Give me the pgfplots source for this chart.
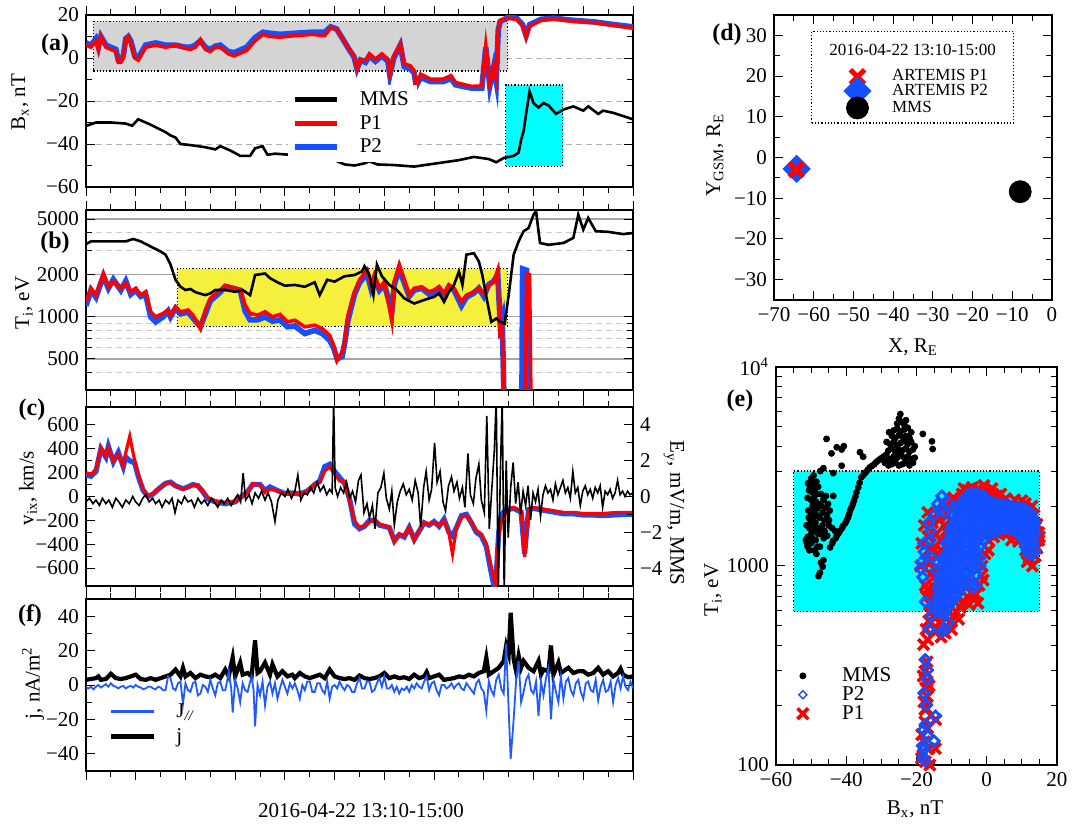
\documentclass[border=0pt]{standalone}
\usepackage{fontspec}
\setmainfont{Liberation Serif}
\usepackage{pgfplots}
\usepackage{pgfplotstable}
\pgfplotsset{compat=1.18}

\definecolor{pblue}{RGB}{20,80,255}
\definecolor{jblue}{RGB}{30,90,255}
\definecolor{boxgray}{RGB}{212,212,212}
\definecolor{boxyellow}{RGB}{245,240,60}
\definecolor{boxcyan}{RGB}{0,255,255}
\newcommand{\fs}{\fontsize{10.5}{12}\selectfont}

% (a) Bx ARTEMIS P1/P2
\pgfplotstableread{
t p1 p2
0 6 7
1 5 6
2 8 9
2.5 4 5
3 10 10
4 5 6
5 4 5
6 3 4
6.5 -2 -1
7 -2 -1
7.5 0 1
8 9 9
8.5 10 10
9 7 8
9.8 0 1
10.5 -1 0
11 1 2
12 5 6
14 6 7
16 5 6
18 6 6
20 4.5 5
21 4 5
22 5 6
23 8.5 8
24 4 5
25 3 4
26 5 5.5
27 5 6
28.6 2 3
29.8 1 2.5
32.3 3.5 5
34 8 9.5
35.6 11 12
37 10 11.5
39 9.7 11
42 10.4 11.5
45.5 11 12
48 10.4 12
49.2 14 14.5
50.4 13.5 13.5
51.6 9 9
52.9 4.2 4
53.9 1 0.5
54.5 -5 -5
55.2 -0.5 -1
56.2 -1.2 -2
57 1.9 1
58.2 -0.5 -1.5
59.5 1.9 1
60.7 -0.5 -1.5
61.1 -7.5 -8
61.9 1 0
63.2 6.5 6
64 -2.8 -4
65.2 -3.6 -5
66 -6 -7
66.4 -13 -13
67.3 -7.5 -9
69.3 -9.8 -11
71.8 -9.8 -11
73.4 -8.2 -9.5
74.3 -11.4 -12.5
77.5 -13.2 -14
79.6 -13 -14
80.4 5.8 5
81.2 -12 -13
82 -3.6 -4
82.5 -9.8 -11
82.9 13.6 13
83.3 17.5 17
85 18.5 19
86.6 18 18.5
87.8 15 15.5
88.5 9.7 10.5
89.2 14.8 15.5
91.5 17.5 18
94 18.2 18.5
98.1 17 17.5
102.2 16.4 16.8
106.3 15.1 15.5
110 13.9 14.5
}\tabA

% (a) Bx MMS
\pgfplotstableread{
t v
0 -31.6
2 -30
5 -30
8 -30.5
9.3 -31.5
10.5 -28.5
13 -31
16 -34.5
17 -36
18 -37
19 -40
21 -40.5
24 -41.5
26 -42.5
27 -41
29 -43
31 -45.5
33 -45.5
34 -42
35.5 -41
36.5 -45
38 -44.5
41 -45
43 -46
45 -44.5
47 -45
49 -46.5
52 -49.5
54 -50
56 -49
57 -48
58.5 -49.5
62 -49.8
66 -50.5
69 -49.5
72 -48.5
75 -47.5
78 -46
81 -47
82.5 -48.5
84 -46.5
86 -45.5
87 -44
87.5 -38
88 -34
88.5 -26
89.2 -15.5
90 -21
91 -23
92 -21
93 -22
94.5 -26
96 -24
98 -22.5
100 -24.5
101 -22.5
103 -26
104 -24.5
106 -25.5
108 -27
110 -28.5
}\tabAm

% (b) Ti ARTEMIS P1/P2
\pgfplotstableread{
t p1 p2
0 1280 1200
1 1600 1550
2 1430 1380
3 1785 1750
3.5 2040 1950
4.5 1640 1600
5.5 1785 1850
7 1600 1550
8 1740 1800
9 1510 1450
10 1600 1550
11 1430 1400
12 1510 1450
13 1086 1000
14 1000 920
15.5 1057 1000
16.5 1118 1100
17 1028 1000
18 1180 1150
19 1086 1050
20.5 1118 1080
21.5 1028 980
23 824 850
24 1118 1050
25 1355 1300
27 1555 1500
28 1670 1650
29.5 1620 1600
31 1555 1550
32 1213 1100
33 1057 950
34.5 1028 950
36 1086 1000
37.5 1000 930
39 1040 950
40.5 920 850
42 945 860
44 848 760
46 871 800
47.5 824 760
49 738 680
49.8 626 600
50.5 488 500
51.5 560 520
52 661 640
52.7 1028 950
54 1510 1450
55 1840 1750
56.5 2160 2050
57.3 1690 1600
58 1990 1900
59 1600 1550
60 1785 1700
61.5 930 1100
62 1785 1700
63 2360 2200
64 1840 1750
65 1430 1400
66 1600 1550
67.5 1640 1600
69 1510 1450
70 1555 1500
71 1640 1600
72 1470 1420
73 1690 1650
74 1600 1550
75.5 1280 1200
76.5 1430 1380
78 1510 1480
79 1600 1600
80 1470 1400
81 1690 1700
82 1785 1800
82.8 2160 2000
83.3 700 900
83.7 920 1000
84.3 100 100
}\tabB

% (b) Ti MMS
\pgfplotstableread{
t v
0 3310
1 3460
5 3460
8 3460
9.5 3600
11 3460
13 3180
15 2930
16 2780
17 2360
18 1840
19 1640
20 1555
21 1580
22 1500
24 1430
25 1470
26 1555
28 1555
30 1510
31.5 1555
33 1430
34 1990
36 2040
37 1890
38.5 1765
40 1670
42 1690
44 1640
46 1765
47 1430
47.5 1555
48.5 1840
50 1785
52 1950
54 1990
55.5 2110
56 2300
57 1990
57.8 1430
58.5 2360
59.5 1950
61 1690
62.5 1555
64 1355
66 1245
68 1320
70 1390
71 1470
72 1280
73 1510
74 1690
75 2110
75.7 1690
76.5 2780
78 2850
79 2490
79.7 1990
80.7 1280
81.5 920
82.5 973
83.3 920
84.2 895
85 1430
86 2780
87 3460
88 4090
89 4310
90 5370
90.5 5700
91.3 3370
93 3270
96 3370
98 3660
99 5370
100 4200
101 5090
102.5 4090
105 4050
108 3900
110 3970
}\tabBm

% (c) vix ARTEMIS P1/P2
\pgfplotstableread{
t p1 p2
0 200 180
1 186 170
2 228 210
3 408 400
4 339 330
4.5 408 420
5.5 297 290
6.5 353 370
7.5 256 250
8 367 330
8.8 505 300
9.8 297 280
10.5 186 170
11.5 61 50
12.5 6 0
13.5 25 20
14.5 61 60
16 108 110
17 117 120
18 89 90
19.5 61 65
20.5 75 80
21.5 97 100
22.5 89 90
23.5 47 40
24.5 -8 -20
26 -36 -45
28 -50 -60
30 -42 -45
31 -8 -10
32.5 33 40
33.5 108 100
35 97 100
36 33 50
37 61 80
38.5 47 50
40 19 25
41.5 33 30
43 19 20
44.5 47 45
46 103 100
47 117 130
48 214 250
49 247 270
50 186 210
51 131 160
52 125 110
53 -36 -20
54 -203 -230
55 -258 -270
56 -244 -250
57 -217 -200
58 -189 -200
59 -230 -240
61 -258 -260
62 -383 -370
63 -314 -320
64 -328 -340
65 -258 -260
66 -369 -360
67 -286 -290
68 -217 -220
69 -230 -240
70 -217 -210
71 -244 -250
72 -203 -190
73 -314 -300
73.7 -480 -330
74.5 -258 -260
75.5 -175 -160
76.5 -161 -150
77.5 -217 -220
78.5 -286 -300
79.5 -314 -330
80.5 -397 -420
81.5 -592 -640
82.3 -730 -800
83 -342 -300
83.5 -203 -150
84.5 -133 -110
86 -92 -100
87.5 -119 -130
88.2 -508 -480
89 -106 -110
90 -92 -100
92 -106 -115
94 -119 -130
96 -133 -145
98 -133 -145
100 -142 -155
102 -142 -155
104 -142 -160
106 -136 -155
108 -133 -150
110 -133 -148
}\tabC

% (c) Ey MMS
\pgfplotstableread[row sep=\\]{
t v\\
0 -0.3\\ 0.7 -0.1\\ 1.4 -0.4\\ 2 -0.2\\ 2.7 -0.5\\ 3.3 -0.1\\ 4 -0.4\\ 4.6 -0.2\\ 5.3 -0.6\\ 6 -0.1\\
6.6 -0.3\\ 7.3 -0.6\\ 8 -0.2\\ 8.7 -0.4\\ 9.4 0\\ 10 -0.3\\ 10.7 -0.5\\ 11.4 -0.1\\ 12 0.1\\ 12.7 -0.3\\
13.4 -0.1\\ 14 -0.4\\ 14.7 -0.2\\ 15.3 -0.6\\ 16 -0.2\\ 16.7 -0.4\\ 17.3 -0.1\\ 17.9 -0.9\\ 18.5 -0.2\\ 19.2 -0.4\\
19.8 0\\ 20.5 -0.3\\ 21.2 -0.2\\ 21.8 -0.6\\ 22.5 -0.1\\ 23.2 -0.4\\ 23.8 -0.2\\ 24.5 -0.5\\ 25.2 -0.1\\ 25.8 -0.3\\
26.5 -0.6\\ 27.2 -0.2\\ 27.8 -0.4\\ 28.5 -0.1\\ 29.2 -0.5\\ 29.8 -0.2\\ 30.5 0.1\\ 31.1 -0.3\\ 31.6 1.3\\ 32.1 -0.2\\
32.8 0.1\\ 33.4 -0.4\\ 34 0.2\\ 34.7 -0.1\\ 35.3 0.3\\ 36 -0.2\\ 36.6 0.2\\ 37.3 -0.3\\ 38 -1.4\\ 38.6 -0.2\\
39.3 0.2\\ 40 0\\ 40.6 0.4\\ 41.3 -0.1\\ 42 0.3\\ 42.6 1.2\\ 43.2 -0.2\\ 43.9 0.2\\ 44.5 0.1\\ 45.2 0.5\\
45.8 0.2\\ 46.5 0.8\\ 47.1 0.3\\ 47.8 0.6\\ 48.4 0.1\\ 49 0.4\\ 49.5 0.2\\ 49.8 5.5\\ 50.1 0.5\\ 50.6 0\\
51.2 0.5\\ 51.8 0.2\\ 52.4 0.8\\ 53 -0.1\\ 53.6 0.3\\ 54.2 -0.3\\ 54.8 0.9\\ 55.3 1.2\\ 55.9 -0.9\\ 56.5 -0.4\\
57 -1.2\\ 57.6 -0.5\\ 58.1 -1.8\\ 58.7 0.2\\ 59.3 0.5\\ 59.9 1.3\\ 60.4 -0.1\\ 61 -0.7\\ 61.5 0.3\\ 62 -1.6\\
62.6 -0.3\\ 63.2 0.3\\ 63.8 0.7\\ 64.4 0.1\\ 65 0.4\\ 65.6 -0.2\\ 66.2 0.9\\ 66.8 0.2\\ 67.3 -1.7\\ 67.9 0.5\\
68.4 1.4\\ 69 -0.2\\ 69.5 0.4\\ 70.1 3.0\\ 70.6 0.8\\ 71.2 1.4\\ 71.8 -0.3\\ 72.3 -0.8\\ 72.9 0.6\\ 73.5 1.1\\
74 0.3\\ 74.6 0.8\\ 75.1 -0.1\\ 75.7 0.5\\ 76.2 -0.6\\ 76.8 2.4\\ 77.3 0.1\\ 77.9 -0.4\\ 78.4 1.0\\ 79 1.8\\
79.5 -0.2\\ 80.1 -0.9\\ 80.6 4.5\\ 81.1 -1.8\\ 81.6 0.4\\ 82.1 2.5\\ 82.5 5.5\\ 82.9 -5.5\\ 83.3 1.0\\ 83.7 5.5\\
84.1 -5.5\\ 84.5 2.0\\ 84.9 -2.3\\ 85.4 0.5\\ 85.9 1.9\\ 86.4 -0.4\\ 86.9 0.8\\ 87.4 -1.0\\ 87.9 0.3\\ 88.4 -0.5\\
88.9 0.6\\ 89.4 -1.3\\ 89.9 0.2\\ 90.4 -0.3\\ 90.9 0.4\\ 91.4 -1.1\\ 91.9 0.1\\ 92.4 0.6\\ 92.9 0.2\\ 93.4 0.4\\
93.9 -0.2\\ 94.4 0.7\\ 94.9 0.1\\ 95.4 0.5\\ 95.9 0.9\\ 96.4 0.2\\ 96.9 0.5\\ 97.4 -0.1\\ 97.9 1.4\\ 98.4 0.2\\
98.9 0.5\\ 99.4 -0.5\\ 99.9 0.3\\ 100.4 0.6\\ 100.9 0.1\\ 101.4 0.4\\ 101.9 -0.1\\ 102.4 0.5\\ 102.9 0.2\\ 103.4 0.6\\
103.9 -0.6\\ 104.4 0.3\\ 104.9 0.1\\ 105.4 0.4\\ 105.9 -0.1\\ 106.4 0.2\\ 106.9 0.9\\ 107.4 0.1\\ 107.9 0.3\\ 108.4 0\\
108.9 0.3\\ 109.4 0.1\\ 110 0.2\\
}\tabCe

% (f) |j| MMS
\pgfplotstableread[row sep=\\]{
t j\\
0 3\\ 1 3.5\\ 2 4\\ 2.5 5\\ 3 3\\ 4 3.5\\ 5 6.5\\ 6 4\\ 7 3.5\\ 8 4\\
9 5\\ 10 6\\ 11 3.5\\ 12 3\\ 13 4\\ 14 3\\ 15 4\\ 16 5\\ 17 6\\ 18 9\\
19 5\\ 19.5 10\\ 20 5\\ 21 7\\ 22 4\\ 23 6\\ 24 5\\ 25 4.5\\ 26 6\\ 27 4\\
28 9\\ 28.7 5\\ 29.5 16\\ 30 5\\ 31 13\\ 31.5 6\\ 32.5 7\\ 33.3 5\\ 34 26\\ 34.5 7\\
35 8\\ 36 13\\ 37 6\\ 37.5 12\\ 38.5 5\\ 39.5 8\\ 40.5 5\\ 41.5 6\\ 42 4\\ 43 7\\
44 5\\ 45 4\\ 46 5\\ 47 6\\ 48 4\\ 49 9\\ 50 5\\ 51 4\\ 52 3.5\\ 53 4\\
54 3\\ 55 5.5\\ 56 4\\ 57 3.5\\ 58 4\\ 59 5\\ 60 7\\ 61 4\\ 62 5\\ 63 4\\
64 4.5\\ 65 3.5\\ 66 6\\ 67 4\\ 68 5\\ 68.5 7.5\\ 69 4\\ 70 5\\ 71 6\\ 72 3\\
73 3.5\\ 74 4\\ 75 5\\ 76 4.5\\ 77 6\\ 78 5\\ 79 7\\ 80 8\\ 80.5 16\\ 81 6\\
82 8\\ 83 10\\ 84 14\\ 84.5 23\\ 85 18\\ 85.4 42\\ 86 15\\ 86.5 8\\ 87 17\\ 87.5 10\\
88 14\\ 89 10\\ 90 8\\ 91 14\\ 91.5 6\\ 92 9\\ 93 8\\ 93.5 23\\ 94 6\\ 95 13\\
95.5 7\\ 96 8\\ 97 10\\ 98 7\\ 99 8\\ 100 8\\ 101 6\\ 102 7\\ 103 10\\ 104 6\\
105 8\\ 106 5\\ 107 7\\ 107.5 9.5\\ 108 6\\ 109 4.5\\ 110 5\\
}\tabFj

% (f) j parallel MMS
\pgfplotstableread[row sep=\\]{
t jp\\
0 -1.5\\ 0.5 -2\\ 1 -1\\ 1.5 -2.5\\ 2 -1\\ 2.5 0\\ 3 -1.5\\ 3.5 -0.5\\ 4 0.5\\ 4.5 -1\\
5 1\\ 5.5 -0.5\\ 6 -1\\ 6.5 -2\\ 7 -1\\ 7.5 -0.5\\ 8 -2\\ 8.5 -1\\ 9 -0.5\\ 9.5 -1.5\\
10 0\\ 10.5 -1\\ 11 -1.5\\ 11.5 -2.5\\ 12 -2\\ 12.5 -1\\ 13 -1\\ 13.5 -2\\ 14 -2.5\\ 14.5 -1\\
15 -1.5\\ 15.5 -3\\ 16 -3\\ 16.5 5\\ 17 4\\ 17.5 -2\\ 18 -3\\ 18.5 1\\ 19 2\\ 19.5 -11\\
20 1\\ 20.5 -3\\ 21 -4\\ 21.5 1\\ 22 2\\ 22.5 -6\\ 23 -5\\ 23.5 0\\ 24 -1\\ 24.5 -4\\
25 3\\ 25.5 -2\\ 26 -6\\ 26.5 1\\ 27 2\\ 27.5 -3\\ 28 -3\\ 28.5 4\\ 28.7 8\\ 29.2 -2\\
29.5 -16\\ 30 3\\ 30.5 -2\\ 31 -10\\ 31.5 1\\ 32 -3\\ 32.5 -4\\ 33 2\\ 33.3 5\\ 33.7 -3\\
34 -24\\ 34.5 0\\ 35 -6\\ 35.5 2\\ 36 -12\\ 36.5 -1\\ 37 2\\ 37.5 -5\\ 38 1\\ 38.5 -8\\
39 -2\\ 39.5 3\\ 40 -1\\ 40.5 -5\\ 41 1\\ 41.5 -2\\ 42 1\\ 42.5 -3\\ 43 -8\\ 43.5 0\\
44 -3\\ 44.5 2\\ 45 2\\ 45.5 -4\\ 46 -4\\ 46.5 1\\ 47 1\\ 47.5 -3\\ 48 -5\\ 48.5 2\\
49 -8\\ 49.5 -1\\ 50 0\\ 50.5 -2\\ 51 2\\ 51.5 -1\\ 52 -3\\ 52.5 0\\ 53 -1\\ 53.5 -4\\
54 -4\\ 54.5 1\\ 55 4\\ 55.5 -2\\ 56 -2\\ 56.5 2\\ 57 2\\ 57.5 -4\\ 58 -3\\ 58.5 1\\
59 4\\ 59.5 -1\\ 60 5\\ 60.5 -2\\ 61 -2\\ 61.5 0\\ 62 -4\\ 62.5 -1\\ 63 -5\\ 63.5 -2\\
64 -3\\ 64.5 -1\\ 65 -4\\ 65.5 0\\ 66 -2\\ 66.5 1\\ 67 -1\\ 67.5 -2\\ 68 2\\ 68.5 5\\
69 -3\\ 69.5 1\\ 70 2\\ 70.5 -3\\ 71 -6\\ 71.5 0\\ 72 0\\ 72.5 -2\\ 73 -1\\ 73.5 1\\
74 -2\\ 74.5 0\\ 75 1\\ 75.5 -2\\ 76 -3\\ 76.5 1\\ 77 -1\\ 77.5 -3\\ 78 -5\\ 78.5 1\\
79 3\\ 79.5 -2\\ 80 -4\\ 80.5 -15\\ 81 2\\ 81.5 -3\\ 82 -6\\ 82.5 3\\ 83 6\\ 83.5 -2\\
84 -5\\ 84.5 24\\ 85 -15\\ 85.4 -43\\ 86 -20\\ 86.5 3\\ 87 14\\ 87.5 -10\\ 88 -4\\ 88.5 3\\
89 6\\ 89.5 -3\\ 90 -5\\ 90.5 2\\ 91 -18\\ 91.5 2\\ 92 -6\\ 92.5 4\\ 93 10\\ 93.5 -20\\
94 3\\ 94.5 -4\\ 95 -10\\ 95.5 5\\ 96 -8\\ 96.5 2\\ 97 4\\ 97.5 -3\\ 98 -6\\ 98.5 1\\
99 3\\ 99.5 -4\\ 100 -8\\ 100.5 1\\ 101 2\\ 101.5 -3\\ 102 -4\\ 102.5 3\\ 103 -9\\ 103.5 -1\\
104 3\\ 104.5 -4\\ 105 -3\\ 105.5 2\\ 106 -10\\ 106.5 0\\ 107 4\\ 107.5 -2\\ 108 5\\ 108.5 -1\\
109 -3\\ 109.5 2\\ 110 -2\\
}\tabFp

% (e) Ti versus Bx, MMS
\pgfplotstableread[row sep=\\]{
x y\\
-51 1250\\ -50.5 1200\\ -50 1300\\ -49.5 1350\\ -51 1400\\ -50 1450\\ -49 1500\\ -50.5 1550\\ -49.8 1600\\ -48.8 1650\\
-50.2 1700\\ -49.3 1750\\ -48.5 1800\\ -50 1850\\ -49 1900\\ -48.2 1950\\ -49.6 2000\\ -48.6 2100\\ -50 2150\\ -49.2 2200\\
-48.3 2300\\ -49.7 2350\\ -49 2450\\ -50.3 2500\\ -49.5 2600\\ -48.5 2650\\ -50 2750\\ -49.3 2850\\ -48.7 1350\\ -48 1450\\
-48.2 1250\\ -51.3 1600\\ -51.5 1350\\ -47.8 1550\\ -47.6 1750\\ -47.9 2050\\ -50.8 1900\\ -51 2200\\ -50.6 2400\\ -48 2500\\
-47.5 1250\\ -49 1200\\ -48.5 1150\\ -51.2 1300\\ -50.7 1750\\ -49.4 2100\\ -48.9 2350\\ -50.9 2600\\ -48.4 1550\\ -49.9 1400\\
-46.8 1600\\ -46.2 1700\\ -45.5 1800\\ -46.8 1850\\ -46 1950\\ -45.2 2050\\ -46.5 2150\\ -45.8 2250\\ -44.9 1700\\ -46.2 1500\\
-47 2000\\ -45 1600\\ -44.7 1900\\ -47.2 2300\\ -44 1550\\ -43.2 1500\\ -42.5 1450\\ -45.4 1420\\ -46.4 1380\\ -47.1 1450\\
-46.5 1070\\ -46.7 993\\ -47.5 925\\ -47.9 890\\ -47.2 1040\\
-44.6 1240\\ -43.7 1340\\ -42.7 1420\\ -41.8 1500\\ -40.9 1590\\ -39.9 1690\\ -39.2 1820\\ -38.5 1970\\ -37.8 2130\\ -37.1 2340\\
-36.6 2480\\ -35.7 2790\\ -34.5 2950\\ -33.3 3130\\ -32 3250\\ -31 3380\\ -29.8 3500\\ -28.6 3630\\ -44 1300\\ -43 1380\\
-42.2 1460\\ -41.2 1550\\ -40.3 1640\\ -39.5 1750\\ -38.9 1900\\ -38.1 2050\\ -37.4 2230\\ -36.2 2620\\ -35.1 2870\\ -33.9 3040\\
-32.6 3190\\ -31.5 3320\\ -30.4 3440\\ -29.2 3560\\
-45.6 4350\\ -44.2 3680\\ -42.7 3950\\ -41.3 3850\\ -41.3 3190\\ -36.1 3730\\ -35.2 3540\\ -46.5 3100\\ -43.7 2930\\ -43.7 2250\\
-18.2 4610\\ -15.6 4230\\ -15.4 3870\\ -40.7 4000\\ -47.4 3000\\
-29 3300\\ -28 3200\\ -27 3250\\ -26 3300\\ -25 3200\\ -24 3250\\ -23 3300\\ -22 3200\\ -21 3300\\
-28.5 3500\\ -27.5 3450\\ -26.5 3550\\ -25.5 3500\\ -24.5 3600\\ -23.5 3500\\ -22.5 3550\\ -21.5 3450\\ -20.5 3500\\
-28 3800\\ -27 3900\\ -26 3750\\ -25 3850\\ -24 3800\\ -23 3900\\ -22 3750\\ -21 3850\\
-27.5 4100\\ -26.5 4200\\ -25.5 4050\\ -24.5 4150\\ -23.5 4250\\ -22.5 4100\\ -21.5 4200\\
-27 4500\\ -26 4400\\ -25 4550\\ -24 4450\\ -23 4500\\ -22 4400\\
-26.5 4800\\ -25.5 4900\\ -24.5 4750\\ -23.5 4850\\ -22.5 4950\\
-25.5 5200\\ -24.5 5300\\ -23.5 5150\\ -25 5500\\ -24.6 5800\\ -23 5400\\
-28.5 4200\\ -20.5 4000\\ -27.8 4700\\ -21.5 4700\\
}\tabEm

% (e) Ti versus Bx, ARTEMIS P1
\pgfplotstableread[row sep=\\]{
x y\\
-17.5 104\\ -18.2 112\\ -16.5 121\\ -17.8 131\\ -18.5 142\\ -16.8 153\\ -17.6 165\\ -14.5 169\\ -14.6 121\\ -18.6 108\\
-16.2 100\\ -17.2 193\\ -17.9 208\\ -16.9 221\\ -17.4 244\\ -17.0 263\\ -17.6 296\\ -18.0 403\\ -16.8 427\\ -17.3 480\\
-16.5 530\\ -17.6 190\\ -16.4 250\\ -18.1 280\\ -17.0 330\\
-16.3 582\\ -17.3 706\\ -15.9 909\\ -17.3 1060\\ -16.3 1215\\ -16.8 1410\\ -14.5 1440\\ -16.8 1860\\ -14.0 1825\\ -18.8 1000\\
-17.5 800\\ -18.5 1300\\ -17.8 1600\\ -15.5 1650\\ -16 640\\ -15.5 700\\ -14.5 720\\ -16.8 760\\ -15 880\\ -13.8 480\\
-13 440\\ -11.8 460\\ -10 480\\ -8 540\\ -15 1200\\ -15.8 1050\\ -13.5 1700\\ -12 2000\\ -9.5 2200\\ -6.5 2450\\
-15 600\\ -14 560\\ -13.5 520\\ -12.6 470\\ -11.5 500\\ -10.5 520\\ -9.5 560\\ -8.8 590\\ -7.5 620\\ -6.9 650\\
-5.5 700\\ -4 720\\ -3.1 720\\ -2.2 800\\ -1.5 900\\ -1.3 1000\\ -0.5 1150\\ 0.6 1340\\ 2 1400\\ 3.5 1440\\
5 1470\\ 6.3 1480\\ 8 1450\\ 10 1380\\ 11 1200\\ 12 1100\\ 13.8 1120\\ 14.3 1230\\ 14.8 1350\\ 14.8 1470\\
14.3 1620\\ 13.5 1800\\ 12.9 2000\\ 11 2060\\ 10 2130\\ 8 2150\\ 5.4 2180\\ 3 2250\\ 0.6 2350\\ -0.8 2540\\
-2.5 2450\\ -4.1 2480\\ -5.5 2400\\ -7 2300\\ -8.8 2130\\ -10 1950\\ -11 1800\\ -12 1600\\ -13 1350\\ -14 1150\\
-14.5 950\\ -15 780\\ -14 850\\ -13 1200\\ -11.5 1500\\ -9.5 1650\\ -6 820\\ -8 700\\ -5 640\\
-6 1100\\ -3 1500\\ 2 1900\\ 8 1800\\ 12 1500\\ -9 1200\\ -5 1900\\
-2.5 650\\ -1 850\\ 0.5 1200\\ 7 1350\\ 9 1330\\ 15 1400\\ 13 1000\\ 11.5 1050\\ 4 2300\\ 1.5 2450\\
}\tabEa

% (e) Ti versus Bx, ARTEMIS P2
\pgfplotstableread[row sep=\\]{
x y\\
-17.5 338\\ -17 270\\ -17.2 200\\ -18 150\\ -17.8 120\\ -14.6 176\\ -15 132\\ -17.6 105\\ -18.2 110\\ -16.8 140\\
-17.4 160\\ -17.9 230\\ -16.9 300\\ -18.3 125\\ -16.5 480\\ -15.8 560\\
-12.8 2250\\ -11 2080\\ -16.5 1650\\ -16 1500\\ -18 1300\\ -18.5 1050\\ -18.8 970\\ -18.2 880\\ -17.5 660\\ -17.8 1180\\
-15 1800\\ -16 1350\\ -15.5 1100\\ -14.5 950\\ -13 1950\\ -14 2050\\ -12 1850\\
-14 620\\ -14 700\\ -14 780\\ -13 580\\ -13 660\\ -13 760\\ -13 880\\ -13 1000\\
-12 580\\ -12 650\\ -12 740\\ -12 850\\ -12 980\\ -12 1120\\
-11 620\\ -11 700\\ -11 800\\ -11 920\\ -11 1050\\ -11 1200\\ -11 1350\\
-10 660\\ -10 750\\ -10 850\\ -10 970\\ -10 1100\\ -10 1250\\ -10 1420\\ -10 1580\\
-9 700\\ -9 790\\ -9 900\\ -9 1020\\ -9 1160\\ -9 1320\\ -9 1500\\ -9 1700\\
-8 740\\ -8 840\\ -8 960\\ -8 1090\\ -8 1240\\ -8 1400\\ -8 1600\\ -8 1800\\ -8 1980\\
-7 780\\ -7 890\\ -7 1010\\ -7 1150\\ -7 1310\\ -7 1490\\ -7 1690\\ -7 1900\\ -7 2100\\
-6 820\\ -6 940\\ -6 1070\\ -6 1220\\ -6 1390\\ -6 1580\\ -6 1800\\ -6 2020\\ -6 2230\\
-5 870\\ -5 1000\\ -5 1140\\ -5 1300\\ -5 1480\\ -5 1680\\ -5 1900\\ -5 2120\\ -5 2300\\
-4 950\\ -4 1080\\ -4 1230\\ -4 1400\\ -4 1600\\ -4 1820\\ -4 2050\\ -4 2300\\
-3 1050\\ -3 1200\\ -3 1380\\ -3 1580\\ -3 1800\\ -3 2050\\ -3 2300\\
-2 1250\\ -2 1450\\ -2 1680\\ -2 1930\\ -2 2200\\
-1 1350\\ -1 1560\\ -1 1800\\ -1 2050\\ -1 2250\\
0 1450\\ 0 1650\\ 0 1880\\ 0 2100\\ 1 1450\\ 1 1650\\ 1 1880\\ 1 2100\\
2 1500\\ 2 1700\\ 2 1900\\ 2 2080\\ 3 1500\\ 3 1700\\ 3 1900\\ 3 2050\\
4 1550\\ 4 1750\\ 4 1950\\ 5 1550\\ 5 1750\\ 5 1950\\ 6 1550\\ 6 1750\\ 6 1950\\
7 1530\\ 7 1730\\ 7 1930\\ 8 1500\\ 8 1700\\ 8 1900\\ 9 1450\\ 9 1650\\ 9 1880\\
10 1400\\ 10 1600\\ 10 1850\\ 11 1250\\ 11 1450\\ 11 1650\\ 11 1850\\
12 1150\\ 12 1350\\ 12 1550\\ 12 1780\\ 13 1150\\ 13 1350\\ 13 1550\\ 13 1750\\
13.8 1200\\ 13.8 1450\\ 13.8 1650\\
-4 780\\ -3 800\\ -3 900\\ -2 1000\\ -2 1100\\ -12 480\\ -11 520\\ -13 470\\ -15 620\\
-13.5 620\\ -13.5 720\\ -13.5 850\\
-12.5 600\\ -12.5 690\\ -12.5 800\\ -12.5 930\\ -12.5 1080\\
-11.5 640\\ -11.5 740\\ -11.5 860\\ -11.5 1000\\ -11.5 1150\\ -11.5 1300\\
-10.5 680\\ -10.5 790\\ -10.5 910\\ -10.5 1040\\ -10.5 1180\\ -10.5 1340\\ -10.5 1500\\
-9.5 720\\ -9.5 840\\ -9.5 960\\ -9.5 1090\\ -9.5 1240\\ -9.5 1410\\ -9.5 1600\\ -9.5 1800\\
-8.5 760\\ -8.5 880\\ -8.5 1020\\ -8.5 1170\\ -8.5 1320\\ -8.5 1500\\ -8.5 1700\\ -8.5 1900\\
-7.5 800\\ -7.5 940\\ -7.5 1080\\ -7.5 1230\\ -7.5 1400\\ -7.5 1590\\ -7.5 1800\\ -7.5 2020\\
-6.5 860\\ -6.5 1000\\ -6.5 1140\\ -6.5 1300\\ -6.5 1480\\ -6.5 1680\\ -6.5 1900\\ -6.5 2130\\
-5.5 920\\ -5.5 1060\\ -5.5 1210\\ -5.5 1390\\ -5.5 1580\\ -5.5 1790\\ -5.5 2010\\ -5.5 2250\\
-4.5 1000\\ -4.5 1150\\ -4.5 1310\\ -4.5 1500\\ -4.5 1710\\ -4.5 1940\\ -4.5 2180\\
-3.5 1120\\ -3.5 1290\\ -3.5 1480\\ -3.5 1690\\ -3.5 1920\\ -3.5 2170\\
-2.5 1350\\ -2.5 1560\\ -2.5 1800\\ -2.5 2060\\ -2.5 2300\\
-1.5 1450\\ -1.5 1680\\ -1.5 1930\\ -1.5 2150\\ -0.5 1550\\ -0.5 1760\\ -0.5 1990\\ -0.5 2200\\
0.5 1550\\ 0.5 1760\\ 0.5 1990\\ 1.5 1560\\ 1.5 1780\\ 1.5 1990\\ 2.5 1600\\ 2.5 1800\\ 2.5 1990\\
3.5 1600\\ 3.5 1820\\ 3.5 2000\\ 4.5 1650\\ 4.5 1850\\ 4.5 2020\\ 5.5 1650\\ 5.5 1850\\ 5.5 2020\\
6.5 1640\\ 6.5 1840\\ 6.5 2000\\ 7.5 1600\\ 7.5 1800\\ 7.5 1980\\ 8.5 1580\\ 8.5 1780\\ 8.5 1960\\
9.5 1530\\ 9.5 1750\\ 9.5 1950\\ 10.5 1350\\ 10.5 1550\\ 10.5 1750\\ 10.5 1950\\
11.5 1200\\ 11.5 1380\\ 11.5 1560\\ 11.5 1780\\ 12.5 1250\\ 12.5 1450\\ 12.5 1650\\ 12.5 1850\\
13.3 1300\\ 13.3 1550\\
}\tabEb

\pgfplotsset{
  panel/.style={scale only axis, width=273.5pt, anchor=south west,
    tick label style={font=\fs}, tick style={black, line width=0.5pt},
    axis line style={line width=0.6pt}},
  timeaxis/.style={xmin=0, xmax=110, xtick={0,10,...,110},
    minor xtick={5,15,...,105}, xticklabels={}, xtick align=outside},
  boxstyle/.style={draw=black, densely dotted, line width=0.6pt, forget plot},
}

\begin{document}
\begin{tikzpicture}
\path[use as bounding box] (0pt,0pt) rectangle (541.5pt,413.5pt);

% ---------- (a) ----------
\begin{axis}[panel, timeaxis, at={(43pt,320pt)}, height=86pt,
  ymin=-60, ymax=20, ytick={-60,-40,-20,0,20}, yticklabels={−60,−40,−20,0,20},
  minor y tick num=1,
  ymajorgrids, major grid style={gray!60, densely dashed, line width=0.5pt},
  legend style={at={(axis cs:40.5,-12.5)}, anchor=north west, draw=none, fill=white,
    font=\fs, inner xsep=2pt, inner ysep=1pt, row sep=-0.5pt,
    /tikz/every odd column/.append style={column sep=8pt}},
  legend cell align=left,
  legend image code/.code={\draw[#1] (0pt,0pt) -- (21pt,0pt);}]
\addplot[boxstyle, fill=boxgray] coordinates {(1.5,-6) (84.8,-6) (84.8,17) (1.5,17) (1.5,-6)};
\addplot[boxstyle, fill=boxcyan] coordinates {(84.4,-50.3) (95.9,-50.3) (95.9,-12.6) (84.4,-12.6) (84.4,-50.3)};
\addplot[pblue, line width=2.8pt, forget plot] table[x=t, y=p2] {\tabA};
\addplot[red, line width=1.8pt, forget plot] table[x=t, y=p1] {\tabA};
\addplot[black, line width=1.3pt, forget plot] table[x=t, y=v] {\tabAm};
\addlegendimage{black, line width=2.5pt}
\addlegendentry{MMS}
\addlegendimage{red, line width=2.5pt}
\addlegendentry{P1}
\addlegendimage{pblue, line width=3pt}
\addlegendentry{P2}
\end{axis}

% ---------- (b) ----------
\begin{axis}[panel, timeaxis, at={(43pt,218.5pt)}, height=90pt,
  ymode=log, ymin=300, ymax=5800,
  ytick={500,1000,2000,5000}, yticklabels={500,1000,2000,5000},
  minor ytick={300,400,600,700,800,900,3000,4000},
  ymajorgrids, yminorgrids,
  major grid style={gray!70, line width=0.6pt},
  minor grid style={gray!40, densely dashed, line width=0.5pt}]
\addplot[boxstyle, fill=boxyellow] coordinates {(18.4,857) (84.7,857) (84.7,2208) (18.4,2208) (18.4,857)};
\addplot[pblue, line width=2.8pt] table[x=t, y=p2] {\tabB};
\addplot[red, line width=1.8pt] table[x=t, y=p1] {\tabB};
\addplot[pblue, line width=2.8pt] coordinates {(87.6,100) (87.8,2200) (88.6,2150) (88.9,100)};
\addplot[red, line width=1.8pt] coordinates {(88.2,100) (88.6,2040) (89.2,2000) (89.6,100)};
\addplot[black, line width=1.3pt] table[x=t, y=v] {\tabBm};
\end{axis}

% ---------- (c) ----------
\begin{axis}[panel, timeaxis, at={(43pt,120.5pt)}, height=89.5pt,
  ymin=-750, ymax=750, ytick={-600,-400,-200,0,200,400,600},
  yticklabels={−600,−400,−200,0,200,400,600}, minor y tick num=1, ytick pos=left]
\addplot[pblue, line width=2.6pt] table[x=t, y=p2] {\tabC};
\addplot[red, line width=1.6pt] table[x=t, y=p1] {\tabC};
\end{axis}
\begin{axis}[panel, at={(43pt,120.5pt)}, height=89.5pt,
  xmin=0, xmax=110, axis x line=none, axis y line*=right,
  ymin=-5, ymax=5, ytick={-4,-2,0,2,4}, yticklabels={−4,−2,0,2,4}, minor y tick num=1]
\addplot[black, line width=0.8pt] table[x=t, y=v] {\tabCe};
\end{axis}

% ---------- (f) ----------
\begin{axis}[panel, timeaxis, at={(43pt,28pt)}, height=86pt,
  ymin=-50, ymax=50, ytick={-40,-20,0,20,40}, yticklabels={−40,−20,0,20,40},
  minor y tick num=1,
  legend style={at={(axis cs:4,-7)}, anchor=north west, draw=none, fill=none,
    font=\fs, inner sep=1pt, row sep=0pt,
    /tikz/every odd column/.append style={column sep=8pt}},
  legend cell align=left,
  legend image code/.code={\draw[#1] (0pt,0pt) -- (21.5pt,0pt);}]
\addplot[black, line width=2.1pt, forget plot] table[x=t, y=j] {\tabFj};
\addplot[jblue, line width=0.9pt, forget plot] table[x=t, y=jp] {\tabFp};
\addlegendimage{jblue, line width=1.6pt}
\addlegendentry{J\textsubscript{\textit{//}}}
\addlegendimage{black, line width=2.6pt}
\addlegendentry{j}
\end{axis}

% ---------- (d) ----------
\begin{axis}[panel, at={(387pt,263.5pt)}, width=139pt, height=142.5pt,
  xmin=-70, xmax=0, ymin=-35, ymax=35,
  xtick={-70,-60,...,0}, xticklabels={−70,−60,−50,−40,−30,−20,−10,0}, minor x tick num=1,
  ytick={-30,-20,...,30}, yticklabels={−30,−20,−10,0,10,20,30}, minor y tick num=1,
  legend style={at={(axis cs:-52.5,21.9)}, anchor=north west, draw=none, fill=none,
    font=\fontsize{8.5}{9}\selectfont, inner sep=0pt, row sep=-3.8pt,
    nodes={inner sep=0.5pt},
    /tikz/every odd column/.append style={column sep=10pt}},
  legend cell align=left,
  legend image code/.code={\draw[#1] plot coordinates {(0pt,0pt)};}]
\addplot[boxstyle] coordinates {(-60.5,8.45) (-9.6,8.45) (-9.6,30.9) (-60.5,30.9) (-60.5,8.45)};
\addplot[only marks, mark=square*, mark options={rotate=45, fill=pblue, draw=pblue}, mark size=4.8pt, forget plot] coordinates {(-64.3,-2.8)};
\addplot[only marks, mark=x, red, line width=2.5pt, mark size=5pt, forget plot] coordinates {(-64.4,-3.0)};
\addplot[only marks, mark=*, black, mark size=5.5pt, forget plot] coordinates {(-8,-8.4)};
\addlegendimage{only marks, mark=x, red, line width=2.5pt, mark size=5pt}
\addlegendentry{ARTEMIS P1}
\addlegendimage{only marks, mark=square*, mark options={rotate=45, fill=pblue, draw=pblue}, mark size=4.8pt}
\addlegendentry{ARTEMIS P2}
\addlegendimage{only marks, mark=*, black, mark size=5.5pt}
\addlegendentry{MMS}
\node[font=\fontsize{8.5}{9}\selectfont] at (axis cs:-35.1,26.3) {2016-04-22 13:10-15:00};
\end{axis}

% ---------- (e) ----------
\begin{axis}[panel, at={(388pt,31pt)}, width=140.5pt, height=199pt,
  xmin=-60, xmax=20, ymode=log, ymin=100, ymax=10000,
  xtick={-60,-40,-20,0,20}, xticklabels={−60,−40,−20,0,20}, minor x tick num=3,
  ytick={100,1000,10000}, yticklabels={100,1000,10\textsuperscript{4}},
  minor ytick={200,300,400,500,600,700,800,900,2000,3000,4000,5000,6000,7000,8000,9000},
  legend style={at={(axis cs:-54,318)}, anchor=north west, draw=none, fill=none,
    font=\fs, inner sep=0pt, row sep=-1pt, nodes={inner sep=1pt},
    /tikz/every odd column/.append style={column sep=16pt}},
  legend cell align=left,
  legend image code/.code={\draw[#1] plot coordinates {(0pt,0pt)};}]
\addplot[boxstyle, fill=boxcyan] coordinates {(-55,590) (15,590) (15,3000) (-55,3000) (-55,590)};
\addplot[only marks, mark=*, black, mark size=1.5pt, forget plot] table[x=x, y=y] {\tabEm};
\addplot[only marks, mark=x, red, line width=1.8pt, mark size=3.8pt, forget plot] table[x=x, y=y] {\tabEa};
\addplot[only marks, mark=square, pblue, mark options={rotate=45}, line width=1.4pt, mark size=1.8pt, forget plot] table[x=x, y=y] {\tabEb};
\addlegendimage{only marks, mark=*, black, mark size=1.5pt}
\addlegendentry{MMS}
\addlegendimage{only marks, mark=square, pblue, mark options={rotate=45}, line width=0.7pt, mark size=1.4pt}
\addlegendentry{P2}
\addlegendimage{only marks, mark=x, red, line width=1.8pt, mark size=3.8pt}
\addlegendentry{P1}
\end{axis}

% ---------- labels ----------
\node[font=\bfseries\fontsize{12}{14}\selectfont] at (27.5pt,391pt) {(a)};
\node[font=\bfseries\fontsize{12}{14}\selectfont] at (27.5pt,292pt) {(b)};
\node[font=\bfseries\fontsize{12}{14}\selectfont] at (16pt,208.5pt) {(c)};
\node[font=\bfseries\fontsize{12}{14}\selectfont] at (15pt,105.5pt) {(f)};
\node[font=\bfseries\fontsize{12}{14}\selectfont] at (363.5pt,396pt) {(d)};
\node[font=\bfseries\fontsize{12}{14}\selectfont] at (370pt,213pt) {(e)};
\node[rotate=90, font=\fs] at (10pt,362.5pt) {B\textsubscript{x}, nT};
\node[rotate=90, font=\fs] at (12pt,262pt) {T\textsubscript{i}, eV};
\node[rotate=90, font=\fs] at (14pt,169.5pt) {v\textsubscript{ix}, km/s};
\node[rotate=90, font=\fs] at (16.5pt,72pt) {j, nA/m\textsuperscript{2}};
\node[rotate=-90, font=\fs] at (337pt,157pt) {E\textsubscript{y}, mV/m, MMS};
\node[rotate=90, font=\fs] at (357.5pt,336pt) {Y\textsubscript{GSM}, R\textsubscript{E}};
\node[font=\fs] at (456.5pt,240pt) {X, R\textsubscript{E}};
\node[rotate=90, font=\fs] at (356.5pt,118.5pt) {T\textsubscript{i}, eV};
\node[font=\fs] at (457.5pt,9pt) {B\textsubscript{x}, nT};
\node[font=\fs] at (180.5pt,8pt) {2016-04-22 13:10-15:00};
\end{tikzpicture}
\end{document}
